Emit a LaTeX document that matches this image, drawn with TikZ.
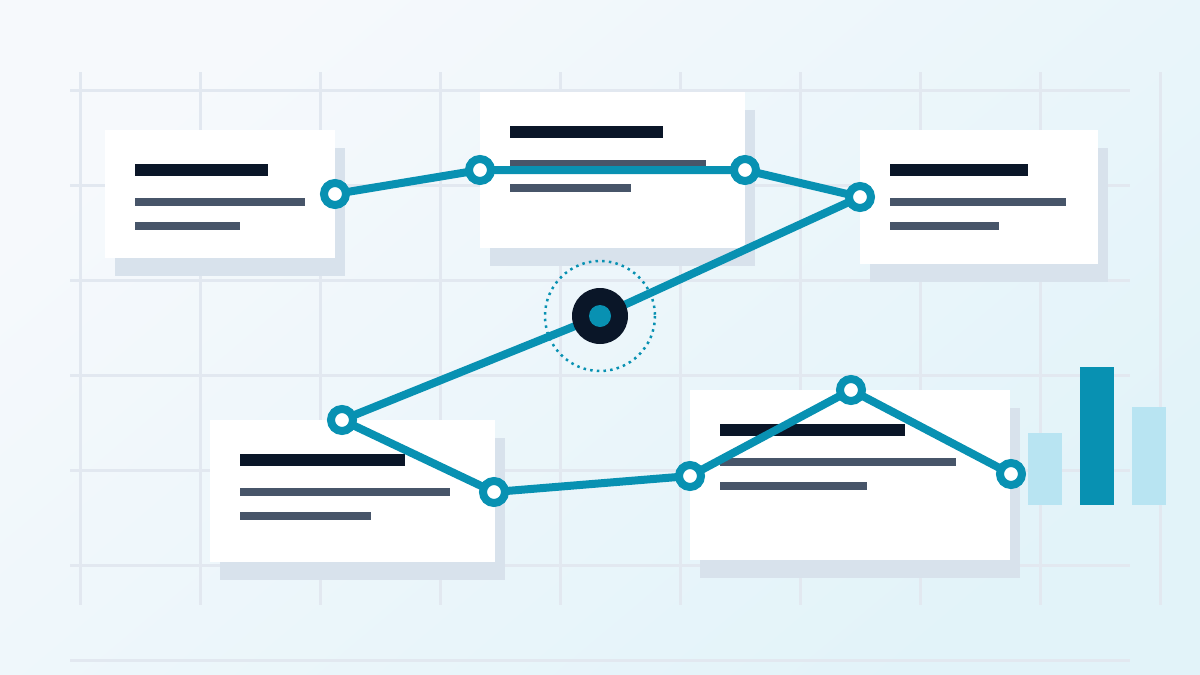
\documentclass[tikz,border=0pt]{standalone}
\begin{document}
\begin{tikzpicture}[x=1pt,y=-1pt,
  gridline/.style={draw=gridc, line width=3pt},
  cardbox/.style={fill=white},
  shadowbox/.style={fill=shadowc},
  titlebar/.style={fill=darkc},
  textbar/.style={fill=greyc},
  pathline/.style={draw=tealc, line width=8pt, line join=round},
  waypoint/.style={circle, draw=tealc, fill=white, line width=8pt, minimum size=22pt, inner sep=0pt},
]
\definecolor{gridc}{HTML}{E2E8F0}
\definecolor{shadowc}{HTML}{D8E2EC}
\definecolor{darkc}{HTML}{0A1628}
\definecolor{greyc}{HTML}{475569}
\definecolor{tealc}{HTML}{0891B2}
\definecolor{lightbar}{HTML}{B8E4F2}
\definecolor{bgA}{HTML}{F6F9FC}
\definecolor{bgB}{HTML}{E2F3F9}
\useasboundingbox (0,0) rectangle (1200,675);
\shade[top color=bgA, bottom color=bgB, shading angle=40] (0,0) rectangle (1200,675);
% grid
\foreach \x in {80,200,...,1160} \draw[gridline] (\x,72) -- (\x,605);
\foreach \y in {90,185,280,375,470,565} \draw[gridline] (70,\y) -- (1130,\y);
\draw[gridline] (70,660) -- (1130,660);
% cards: shadow, card, bars
\newcommand{\mycard}[6]{% x1,y1,x2,y2,titlelen,line2len,line3len
  \fill[shadowbox] (#1+10,#2+18) rectangle (#3+10,#4+18);
  \fill[cardbox] (#1,#2) rectangle (#3,#4);
  \fill[titlebar] (#1+30,#2+34) rectangle (#1+30+#5,#2+46);
  \fill[textbar] (#1+30,#2+68) rectangle (#1+30+#6,#2+76);
}
\newcommand{\mythird}[3]{\fill[textbar] (#1+30,#2+92) rectangle (#1+30+#3,#2+100);}
\mycard{105}{130}{335}{258}{133}{170}\mythird{105}{130}{105}
\mycard{480}{92}{745}{248}{153}{196}\mythird{480}{92}{121}
\mycard{860}{130}{1098}{264}{138}{176}\mythird{860}{130}{109}
\mycard{210}{420}{495}{562}{165}{210}\mythird{210}{420}{131}
\mycard{690}{390}{1010}{560}{185}{236}\mythird{690}{390}{147}
% bars
\fill[lightbar] (1028,433) rectangle (1062,505);
\fill[tealc] (1080,367) rectangle (1114,505);
\fill[lightbar] (1132,407) rectangle (1166,505);
% coordinates
\coordinate (A) at (335,194);
\coordinate (B) at (480,170);
\coordinate (C) at (745,170);
\coordinate (D) at (860,197);
\coordinate (E) at (600,316);
\coordinate (F) at (342,420);
\coordinate (G) at (494,492);
\coordinate (H) at (690,476);
\coordinate (I) at (851,390);
\coordinate (J) at (1011,474);
\draw[pathline] (A) -- (B) -- (C) -- (D) -- (E) -- (F) -- (G) -- (H) -- (I) -- (J);
% central hub
\draw[tealc, line width=2.5pt, dash pattern=on 2.5pt off 4.2pt] (E) circle (55);
\node[circle, fill=darkc, minimum size=56pt, inner sep=0pt] (hub) at (E) {};
\node[circle, fill=tealc, minimum size=22pt, inner sep=0pt] (hubin) at (E) {};
% waypoints
\foreach \p in {A,B,C,D,F,G,H,I,J} \node[waypoint] (n\p) at (\p) {};
\end{tikzpicture}
\end{document}
